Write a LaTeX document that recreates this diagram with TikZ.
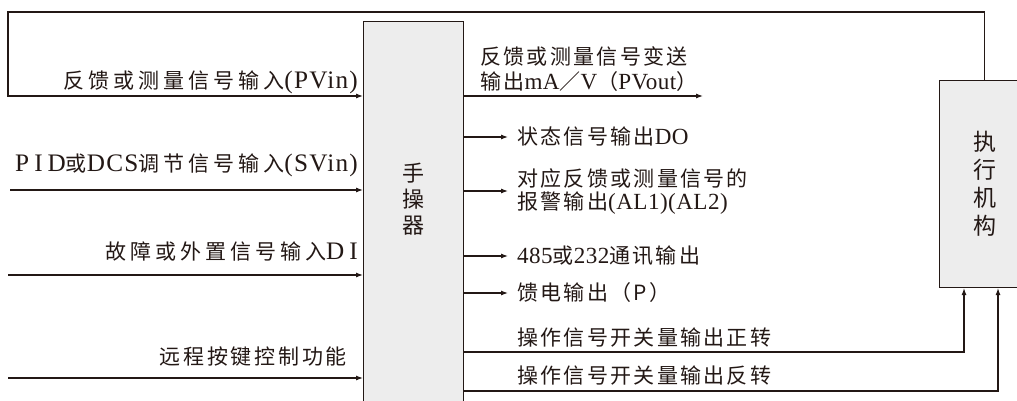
\documentclass[tikz,border=0pt]{standalone}
\usepackage{fontspec}
\setmainfont{Liberation Serif}
\newfontfamily\cjk[LetterSpace=11]{Noto Sans CJK SC}
\newfontfamily\cjkw[LetterSpace=19]{Noto Sans CJK SC}
\newfontfamily\cjkm[LetterSpace=13]{Noto Sans CJK SC}
\newfontfamily\cjkplain{Noto Sans CJK SC}
\newfontfamily\lat[LetterSpace=5,Scale=1.2]{Liberation Serif}
\newfontfamily\latr[LetterSpace=2,Scale=1.1]{Liberation Serif}
\newfontfamily\latw[LetterSpace=20,Scale=1.2]{Liberation Serif}
\usetikzlibrary{arrows.meta}
\newcommand\zh[1]{{\cjk #1}}
\newcommand\zhw[1]{{\cjkw #1}}
\newcommand\zhm[1]{{\cjkm #1}}
\newcommand\la[1]{{\lat #1}}
\newcommand\lar[1]{{\latr #1}}
\newcommand\law[1]{{\latw #1}}
\definecolor{ink}{HTML}{231815}
\definecolor{boxgray}{HTML}{EDEDED}
\tikzset{
 ln/.style={draw=ink, line width=1.1pt},
 arr/.style={ln, -{Latex[length=7pt,width=5pt]}},
 blk/.style={draw=ink, fill=boxgray, line width=1.1pt, inner sep=0pt},
 lbl/.style={text=ink, inner sep=0pt, font=\fontsize{21}{25}\selectfont},
 bigtxt/.style={text=ink, align=center, inner sep=0pt},
}
\begin{document}
\begin{tikzpicture}[x=1pt,y=-1pt]
\useasboundingbox (0,0) rectangle (1017,400);
\clip (0,0) rectangle (1017,400);
\fill[white] (0,0) rectangle (1017,400);

% blocks
\node[blk, minimum width=100pt, minimum height=420pt, anchor=north west] (hs) at (363,21) {};
\node[bigtxt, font=\fontsize{22}{26}\cjkplain] (hst) at (413,199) {手\\操\\器};
\node[blk, minimum width=90pt, minimum height=207pt, anchor=north west,
      font=\fontsize{23}{28}\cjkplain, text=ink, align=center] (act) at (939,80) {执\\行\\机\\构};

% inputs
\coordinate (fbl) at (8,12);
\coordinate (in1) at (8,96);
\coordinate (in2) at (10,190);
\coordinate (in3) at (8,275);
\coordinate (in4) at (8,378);
\draw[arr] (act.north) |- (fbl) -- (in1) -- (in1 -| hs.west);
\draw[arr] (in2) -- (in2 -| hs.west);
\draw[arr] (in3) -- (in3 -| hs.west);
\draw[arr] (in4) -- (in4 -| hs.west);

\node[lbl, anchor=east] (t1) at (358,82) {\zhw{反馈或测量信号输入}\la{(PVin)}};
\node[lbl, anchor=east] (t2) at (358,165) {\law{PID}\zhw{或}\la{DCS}\zhw{调节信号输入}\la{(SVin)}};
\node[lbl, anchor=east] (t3) at (358,252) {\zhw{故障或外置信号输入}\law{DI}};
\node[lbl, anchor=east] (t4) at (347,357) {\zhm{远程按键控制功能}};

% outputs
\coordinate (o1) at (703,96);
\coordinate (o2) at (508,137);
\coordinate (o3) at (508,191);
\coordinate (o4) at (508,256);
\coordinate (o5) at (508,293);
\coordinate (o6) at (964,352);
\coordinate (o7) at (998,391);
\draw[arr] (o1 -| hs.east) -- (o1);
\draw[arr] (o2 -| hs.east) -- (o2);
\draw[arr] (o3 -| hs.east) -- (o3);
\draw[arr] (o4 -| hs.east) -- (o4);
\draw[arr] (o5 -| hs.east) -- (o5);
\draw[arr] (o6 -| hs.east) -- (o6) -- (o6 |- act.south);
\draw[arr] (o7 -| hs.east) -- (o7) -- (o7 |- act.south);

\node[lbl, anchor=west, align=left] (r1) at (480,69.5) {\zh{反馈或测量信号变送}\\\zh{输出}\lar{mA}\zh{／}\lar{V}\zh{（}\lar{PVout}\zh{）}};
\node[lbl, anchor=west] (r2) at (517,137) {\zh{状态信号输出}\lar{DO}};
\node[lbl, anchor=west, align=left, font=\fontsize{21}{23}\selectfont] (r3) at (517,192) {\zh{对应反馈或测量信号的}\\\zh{报警输出}\lar{(AL1)(AL2)}};
\node[lbl, anchor=west] (r4) at (517,256) {\lar{485}\zh{或}\lar{232}\zh{通讯输出}};
\node[lbl, anchor=west] (r5) at (517,293) {\zh{馈电输出（P）}};
\node[lbl, anchor=west] (r6) at (517,338) {\zh{操作信号开关量输出正转}};
\node[lbl, anchor=west] (r7) at (517,376) {\zh{操作信号开关量输出反转}};
\end{tikzpicture}
\end{document}
